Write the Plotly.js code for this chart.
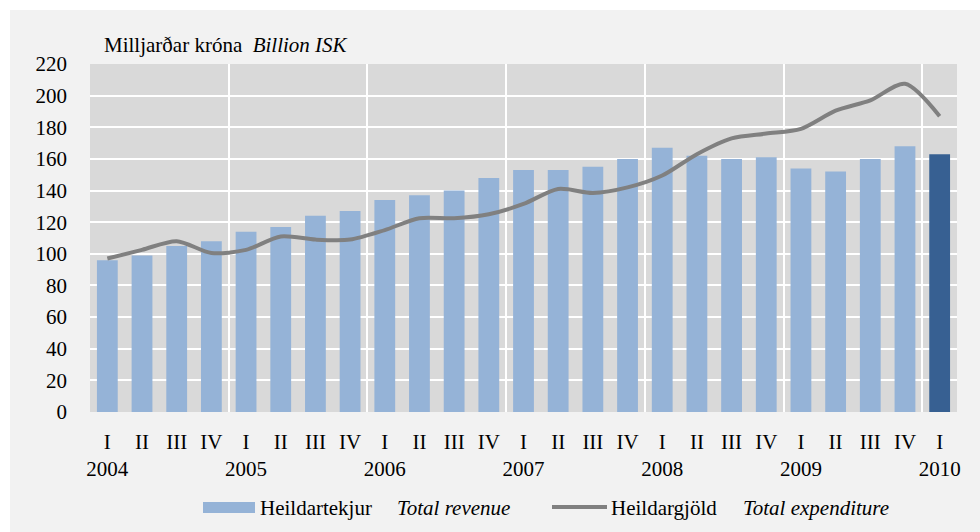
<!DOCTYPE html>
<html>
<head>
<meta charset="utf-8">
<script src="https://cdn.plot.ly/plotly-3.0.1.min.js"></script>
<style>html,body{margin:0;padding:0;background:#fff;}#chart{width:980px;height:532px;}</style>
</head>
<body>
<div id="chart"></div>
<script>
// Data
var years = ['2004', '2005', '2006', '2007', '2008', '2009', '2010'];
var quarters = ['I', 'II', 'III', 'IV'];
var periods = [
  '2004 I','2004 II','2004 III','2004 IV',
  '2005 I','2005 II','2005 III','2005 IV',
  '2006 I','2006 II','2006 III','2006 IV',
  '2007 I','2007 II','2007 III','2007 IV',
  '2008 I','2008 II','2008 III','2008 IV',
  '2009 I','2009 II','2009 III','2009 IV',
  '2010 I'
];
var revenue = [96, 99, 105, 108, 114, 117, 124, 127, 134, 137, 140, 148, 153, 153, 155, 160, 167, 162, 160, 161, 154, 152, 160, 168, 163];
var expenditure = [97, 102.5, 108, 100.5, 102.5, 111, 109, 109, 115, 122.5, 122.5, 125, 131.5, 141, 138.5, 142, 149.5, 163, 173, 176, 179, 190.5, 197, 207.5, 187];
var revenueName = 'Heildartekjur';
var revenueNameEn = 'Total revenue';
var expenditureName = 'Heildargjöld';
var expenditureNameEn = 'Total expenditure';
var highlightPeriod = '2010 I';

// Build positions / labels from the data
var xIdx = periods.map(function (p, i) { return i; });
var tickText = periods.map(function (p) {
  var parts = p.split(' ');
  return parts[1] === quarters[0] ? parts[1] + '<br>' + parts[0] : parts[1];
});
var minorVals = [];
for (var i = 0; i < periods.length; i++) {
  if (periods[i].split(' ')[1] === quarters[0]) minorVals.push(i - 0.5);
}
var barColors = periods.map(function (p) { return p === highlightPeriod ? '#376092' : '#95B3D7'; });

var FONT = 'Liberation Serif';
var FS = 21;

var traces = [
  {
    type: 'bar', x: xIdx, y: revenue, name: revenueName,
    marker: { color: barColors, line: { width: 0 } },
    showlegend: false, hoverinfo: 'y'
  },
  {
    type: 'scatter', mode: 'lines', x: xIdx, y: expenditure, name: expenditureName,
    line: { color: '#808080', width: 4, shape: 'spline', smoothing: 0.8 },
    showlegend: false, hoverinfo: 'y'
  }
];

// paper coordinate helpers (plot area: x 90..957, y 64..412)
var L = 90, R = 957, T = 64, B = 412;
function px(x) { return (x - L) / (R - L); }
function py(y) { return (B - y) / (B - T); }

var legY = py(508);
var shapes = [
  { type: 'rect', xref: 'paper', yref: 'paper', x0: px(0), x1: px(980), y0: py(10), y1: py(0), fillcolor: '#ffffff', line: { width: 0 }, layer: 'below' },
  { type: 'rect', xref: 'paper', yref: 'paper', x0: px(0), x1: px(10), y0: py(532), y1: py(0), fillcolor: '#ffffff', line: { width: 0 }, layer: 'below' },
  { type: 'rect', xref: 'paper', yref: 'paper', x0: px(203), x1: px(255), y0: py(513), y1: py(502), fillcolor: '#95B3D7', line: { width: 0 } },
  { type: 'line', xref: 'paper', yref: 'paper', x0: px(552), x1: px(607), y0: py(507), y1: py(507), line: { color: '#808080', width: 4 } }
];
var annFont = { family: FONT, size: FS, color: '#000000' };
var annotations = [
  { xref: 'paper', yref: 'paper', x: px(258), y: legY, xanchor: 'left', yanchor: 'middle', text: revenueName, showarrow: false, font: annFont },
  { xref: 'paper', yref: 'paper', x: px(395), y: legY, xanchor: 'left', yanchor: 'middle', text: '<i>' + revenueNameEn + '</i>', showarrow: false, font: annFont },
  { xref: 'paper', yref: 'paper', x: px(609), y: legY, xanchor: 'left', yanchor: 'middle', text: expenditureName, showarrow: false, font: annFont },
  { xref: 'paper', yref: 'paper', x: px(741), y: legY, xanchor: 'left', yanchor: 'middle', text: '<i>' + expenditureNameEn + '</i>', showarrow: false, font: annFont }
];

var layout = {
  width: 980, height: 532,
  margin: { l: L, r: 980 - R, t: T, b: 532 - B, pad: 0 },
  paper_bgcolor: '#F2F2F2',
  plot_bgcolor: '#D9D9D9',
  font: { family: FONT, size: FS, color: '#000000' },
  title: {
    text: 'Milljarðar króna\u00a0\u00a0<i>Billion ISK</i>',
    xref: 'container', yref: 'container',
    x: 104 / 980, xanchor: 'left',
    y: 1 - 45 / 532, yanchor: 'middle',
    font: { family: FONT, size: FS, color: '#000000' }
  },
  bargap: 0.4,
  showlegend: false,
  xaxis: {
    type: 'linear',
    range: [-0.5, periods.length - 0.5],
    tickmode: 'array', tickvals: xIdx, ticktext: tickText,
    showgrid: false, zeroline: false, showline: false,
    ticks: '', ticklabelstandoff: 15,
    tickfont: { family: FONT, size: FS, color: '#000000' },
    minor: { tickmode: 'array', tickvals: minorVals, showgrid: true, gridcolor: '#FFFFFF', gridwidth: 2, ticks: '' },
    fixedrange: true
  },
  yaxis: {
    range: [0, 220], dtick: 20, tick0: 0,
    showgrid: true, gridcolor: '#FFFFFF', gridwidth: 2,
    zeroline: false, showline: false,
    ticks: '', ticklabelstandoff: 22,
    tickfont: { family: FONT, size: FS, color: '#000000' },
    fixedrange: true
  },
  shapes: shapes,
  annotations: annotations
};

Plotly.newPlot('chart', traces, layout, { displayModeBar: false, staticPlot: true });
</script>
</body>
</html>
